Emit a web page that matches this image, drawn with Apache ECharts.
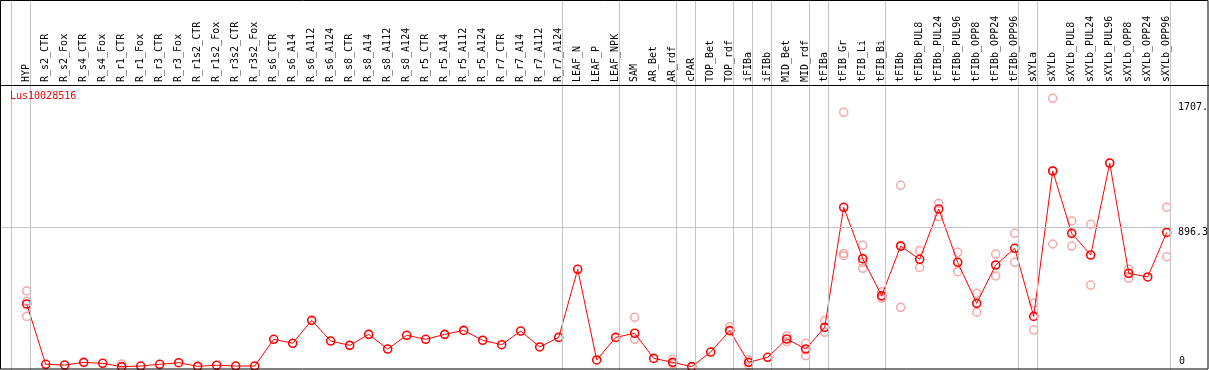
<!DOCTYPE html>
<html>
<head>
<meta charset="utf-8">
<script src="https://cdn.jsdelivr.net/npm/echarts@6/dist/echarts.min.js"></script>
<style>
  html, body { margin: 0; padding: 0; background: #fff; }
  #chart { width: 1209px; height: 370px; }
</style>
</head>
<body>
<div id="chart"></div>
<script>
// 样本名称
const categories = [
    "HYP", "R_s2_CTR", "R_s2_Fox", "R_s4_CTR", "R_s4_Fox", "R_r1_CTR", "R_r1_Fox",
    "R_r3_CTR", "R_r3_Fox", "R_r1s2_CTR", "R_r1s2_Fox", "R_r3s2_CTR", "R_r3s2_Fox",
    "R_s6_CTR", "R_s6_A14", "R_s6_A112", "R_s6_A124", "R_s8_CTR", "R_s8_A14",
    "R_s8_A112", "R_s8_A124", "R_r5_CTR", "R_r5_A14", "R_r5_A112", "R_r5_A124",
    "R_r7_CTR", "R_r7_A14", "R_r7_A112", "R_r7_A124", "LEAF_N", "LEAF_P", "LEAF_NPK",
    "SAM", "AR_Bet", "AR_rdf", "cPAR", "TOP_Bet", "TOP_rdf", "iFIBa", "iFIBb",
    "MID_Bet", "MID_rdf", "tFIBa", "tFIB_Gr", "tFIB_Li", "tFIB_Bi", "tFIBb",
    "tFIBb_PUL8", "tFIBb_PUL24", "tFIBb_PUL96", "tFIBb_OPP8", "tFIBb_OPP24", "tFIBb_OPP96",
    "sXYLa", "sXYLb", "sXYLb_PUL8", "sXYLb_PUL24", "sXYLb_PUL96", "sXYLb_OPP8",
    "sXYLb_OPP24", "sXYLb_OPP96"
];

// 平均值
const means = [
    415, 36, 31, 48, 42, 21, 25, 36, 46, 23, 30, 25, 25,
    193, 168, 312, 182, 155, 224, 132, 218, 193, 224, 249, 187, 159, 245, 145, 205,
    633, 63, 205,
    231, 73, 48, 21, 113, 247, 48, 80, 195, 132,
    268, 1023, 700, 467,
    779, 696, 1012, 677, 419, 660, 765,
    337, 1251, 859, 723, 1301, 608, 585, 865
];

// 重复样本 [样本序号, 值]
const replicates = [
    [0, 497], [0, 432], [0, 337], [5, 38],
    [32, 331], [32, 193], [34, 67], [34, 38], [37, 272], [37, 251],
    [38, 63], [38, 31], [40, 214], [40, 178], [41, 168], [41, 90],
    [42, 310], [42, 237], [43, 1620], [43, 733], [43, 719],
    [44, 784], [44, 639], [44, 677], [45, 492], [45, 451], [45, 461],
    [46, 1161], [46, 394], [46, 782], [47, 752], [47, 645],
    [48, 1048], [48, 964], [49, 740], [49, 618], [50, 482], [50, 363],
    [51, 729], [51, 591], [52, 859], [52, 677],
    [53, 419], [53, 251], [54, 1708], [54, 792], [54, 1253],
    [55, 937], [55, 779], [56, 916], [56, 534], [57, 1301],
    [58, 633], [58, 576], [60, 1023], [60, 712]
];

// 分组分隔线 (在这些样本之后)
const groupEnds = [-1, 0, 28, 31, 34, 35, 37, 38, 39, 41, 42, 45, 52, 53, 60];
const refValue = 896.3;
const axisTexts = ["1707.", "896.3", "0"];
const geneName = "Lus10028516";

const MONO = "DejaVu Sans Mono";
const chart = echarts.init(document.getElementById("chart"));

chart.setOption({
    animation: false,
    grid: [
        { left: 1, right: 38, top: 0, bottom: 0 },
        { left: 17.2, right: 32.8, top: 85, height: 1 },
    ],
    xAxis: [
        { type: "value", gridIndex: 0, min: -1.353, max: 60.226, show: false },
        {
            type: "category", gridIndex: 1, position: "top", data: categories,
            axisLine: { show: false }, axisTick: { show: false },
            axisLabel: { interval: 0, rotate: 90, margin: 3, fontFamily: MONO, fontSize: 10, color: "#000" },
        },
    ],
    yAxis: [
        { type: "value", gridIndex: 0, min: 0, max: 2326, show: false },
        { type: "value", gridIndex: 1, show: false },
    ],
    series: [
        {
            type: "scatter",
            data: replicates,
            symbol: "circle",
            symbolSize: 8,
            itemStyle: { color: "rgba(0,0,0,0)", borderColor: "#ef9393", borderWidth: 1.5 },
            z: 2,
            markLine: {
                silent: true,
                symbol: "none",
                label: { show: false },
                lineStyle: { color: "#c4c4c4", type: "solid", width: 1 },
                data: groupEnds.map(i => ({ xAxis: i + 0.2 })).concat([{ yAxis: refValue }]),
            },
        },
        {
            type: "line",
            data: means.map((v, i) => [i, v]),
            symbol: "circle",
            symbolSize: 8,
            clip: false,
            lineStyle: { color: "#ff0000", width: 1 },
            itemStyle: { color: "rgba(0,0,0,0)", borderColor: "#ff0000", borderWidth: 1.6 },
            z: 3,
        },
    ],
    graphic: [
        { type: "rect", z: 50, shape: { x: 0.5, y: 0.5, width: 1207.5, height: 368.5 },
          style: { fill: "none", stroke: "#000", lineWidth: 1 }, silent: true },
        { type: "line", z: 50, shape: { x1: 0, y1: 85.5, x2: 1209, y2: 85.5 },
          style: { stroke: "#000", lineWidth: 1 }, silent: true },
        { type: "text", z: 100, left: 10, top: 91,
          style: { text: geneName, fill: "#ff0000", font: "10px " + MONO } },
        { type: "text", z: 100, x: 1178, y: 107, style: { text: axisTexts[0], fill: "#000", font: "10px " + MONO, verticalAlign: "middle" } },
        { type: "text", z: 100, x: 1178, y: 232.5, style: { text: axisTexts[1], fill: "#000", font: "10px " + MONO, verticalAlign: "middle" } },
        { type: "text", z: 100, x: 1179, y: 361.5, style: { text: axisTexts[2], fill: "#000", font: "10px " + MONO, verticalAlign: "middle" } },
    ],
});
</script>
</body>
</html>
